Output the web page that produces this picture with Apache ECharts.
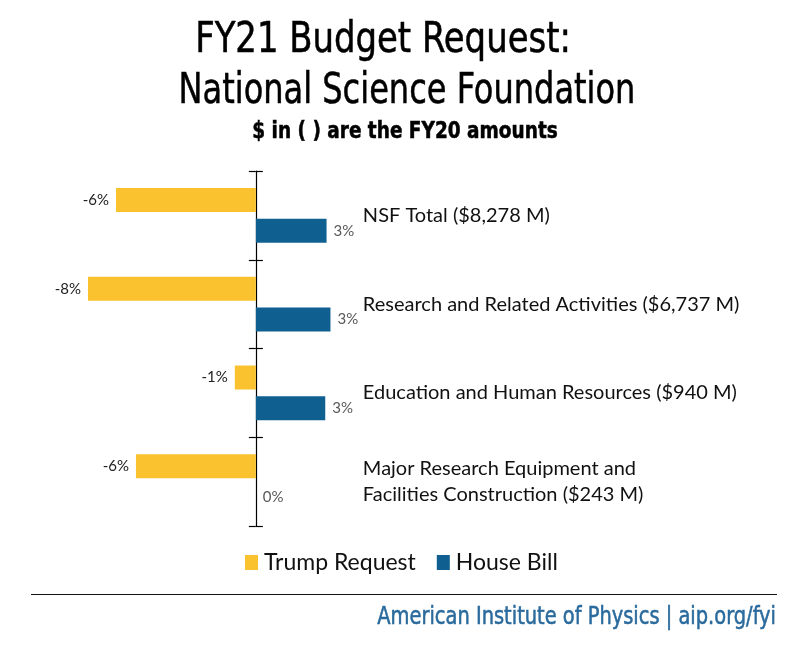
<!DOCTYPE html>
<html>
<head>
<meta charset="utf-8">
<script src="https://cdn.jsdelivr.net/npm/echarts@6/dist/echarts.min.js"></script>
<style>
html,body{margin:0;padding:0;background:#fff;}
#chart{width:800px;height:652px;}
</style>
</head>
<body>
<div id="chart"></div>
<script>
const categories = [
  "NSF Total ($8,278 M)",
  "Research and Related Activities ($6,737 M)",
  "Education and Human Resources ($940 M)",
  "Major Research Equipment and\nFacilities Construction ($243 M)"
];
const seriesNames = ["Trump Request", "House Bill"];
const trumpRequest = [-6.45, -7.74, -0.97, -5.53];
const houseBill = [3.26, 3.44, 3.2, 0];
const titleLines = ["FY21 Budget Request:", "National Science Foundation"];
const subtitleText = "$ in ( ) are the FY20 amounts";
const footerText = "American Institute of Physics | aip.org/fyi";

const YELLOW = '#F9C22E';
const BLUE = '#0F5F90';
const condensed = '"DejaVu Sans Condensed", "Liberation Sans Narrow", sans-serif';
const body = 'Lato, "Open Sans", sans-serif';

const X_MIN = -10, X_MAX = 25, GRID_LEFT = 39, GRID_RIGHT = 2, W = 800;
const zeroOffset = (W - GRID_LEFT - GRID_RIGHT) * (0 - X_MIN) / (X_MAX - X_MIN);

const chart = echarts.init(document.getElementById('chart'), null, {renderer: 'canvas'});
const fmt = p => Math.round(p.value) + '%';

function txt(text, x, y, size, weight, color, scaleX, align) {
  return {
    type: 'text', x: x, y: y, scaleX: scaleX, silent: true,
    style: {
      text: text, x: 0, y: 0,
      font: weight + ' ' + size + 'px ' + condensed,
      fill: color, stroke: color, lineWidth: 0.5,
      textAlign: align || 'center', textVerticalAlign: 'middle'
    }
  };
}

chart.setOption({
  backgroundColor: '#fff',
  animation: false,
  graphic: [
    txt(titleLines[0], 383, 41, 42, 'normal', '#000', 0.897),
    txt(titleLines[1], 407, 92, 42, 'normal', '#000', 0.848),
    txt(subtitleText, 405, 132, 23, 'bold', '#000', 0.894),
    txt(footerText, 776, 618, 24, 'normal', '#2A6A9C', 0.9, 'right'),
    {type: 'line', shape: {x1: 31, y1: 594.5, x2: 777, y2: 594.5}, style: {stroke: '#111', lineWidth: 1}}
  ],
  legend: {
    data: seriesNames,
    top: 546, left: 240,
    itemWidth: 13, itemHeight: 15, itemGap: 21,
    icon: 'rect',
    textStyle: {fontFamily: body, fontSize: 23, color: '#111', padding: [0, 0, 0, 1]}
  },
  grid: {left: GRID_LEFT, right: GRID_RIGHT, top: 171, bottom: 126, containLabel: false, outerBoundsMode: 'none'},
  xAxis: {
    type: 'value', min: X_MIN, max: X_MAX, show: false,
    splitLine: {show: false}
  },
  yAxis: [
    {
      type: 'category', data: categories, inverse: true, position: 'left',
      offset: -zeroOffset,
      axisLine: {show: true, onZero: false, lineStyle: {color: '#000', width: 1.2}},
      axisTick: {show: true, length: 7, lineStyle: {color: '#000', width: 1.2}},
      axisLabel: {inside: false, margin: -107, align: 'left', fontFamily: body, fontSize: 20, color: '#111', lineHeight: 26}
    },
    {
      type: 'category', data: categories, inverse: true, position: 'left',
      offset: -zeroOffset,
      axisLine: {show: false, onZero: false},
      axisTick: {show: true, inside: true, length: 7, lineStyle: {color: '#000', width: 1.2}},
      axisLabel: {show: false}
    }
  ],
  series: [
    {
      name: seriesNames[0], type: 'bar', data: trumpRequest,
      barWidth: 24, barGap: '28%',
      itemStyle: {color: YELLOW},
      label: {show: true, position: 'left', distance: 7, formatter: fmt, fontFamily: body, fontSize: 15, color: '#222'}
    },
    {
      name: seriesNames[1], type: 'bar', data: houseBill,
      barWidth: 24, barGap: '28%',
      itemStyle: {color: BLUE},
      label: {show: true, position: 'right', distance: 7, formatter: fmt, fontFamily: body, fontSize: 15, color: '#595959'}
    }
  ]
});
</script>
</body>
</html>
